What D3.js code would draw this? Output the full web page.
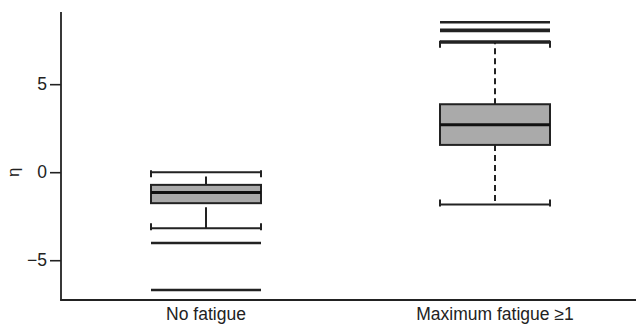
<!DOCTYPE html>
<html>
<head>
<meta charset="utf-8">
<script src="https://cdn.jsdelivr.net/npm/d3@7"></script>
<style>
  body { margin: 0; background: #fff; }
  text { font-family: "Liberation Sans", Arial, sans-serif; fill: #222; }
</style>
</head>
<body>
<div id="chart"></div>
<script>
const WIDTH = 636;
const HEIGHT = 325;

// datos
const groups = ["No fatigue", "Maximum fatigue \u22651"];
const q1 = [-1.76, 1.55];
const median = [-1.16, 2.69];
const q3 = [-0.72, 3.86];
const capLow = [-3.18, -1.84];
const capHigh = [0.0, 7.36];
const stemLow = [[-1.99, -3.18], [1.55, -1.84]];
const stemHigh = [[-0.72, -0.25], [3.86, 7.36]];
const dashed = [false, true];
const outliers = [[-4.02, -6.69], [7.43, 8.02, 8.09, 8.52]];
const yTicks = [-5, 0, 5];

const svg = d3.select("#chart")
  .append("svg")
  .attr("width", WIDTH)
  .attr("height", HEIGHT);

const x = d3.scaleLinear().domain([0.5, 2.5]).range([61.5, 639.5]);
const y = d3.scaleLinear().domain([-7.26, 9.1]).range([300, 12]);
const halfW = 55;
const ink = "#222";

// ejes
const yAxis = svg.append("g")
  .attr("transform", "translate(61,0)")
  .call(d3.axisLeft(y).tickValues(yTicks).tickSize(11).tickPadding(3)
    .tickFormat(d => d < 0 ? "\u2212" + Math.abs(d) : d));
yAxis.select(".domain").remove();
yAxis.selectAll("line").attr("stroke", ink).attr("stroke-width", 1.6);
yAxis.selectAll("text").attr("font-size", 17.5).attr("fill", ink)
  .attr("font-family", "'Liberation Sans', Arial, sans-serif");

svg.append("line")
  .attr("x1", 61).attr("x2", 61).attr("y1", 12).attr("y2", 300.8)
  .attr("stroke", ink).attr("stroke-width", 1.8);
svg.append("line")
  .attr("x1", 60.2).attr("x2", WIDTH).attr("y1", 300).attr("y2", 300)
  .attr("stroke", ink).attr("stroke-width", 1.8);

svg.append("text")
  .attr("transform", `translate(19,${y(0)}) rotate(-90)`)
  .attr("text-anchor", "middle")
  .attr("font-size", 17)
  .text("\u03b7");

svg.selectAll(".xlab")
  .data(groups)
  .join("text")
  .attr("class", "xlab")
  .attr("x", (d, i) => x(i + 1))
  .attr("y", 320)
  .attr("text-anchor", "middle")
  .attr("font-size", 17.5)
  .text(d => d);

// cajas
const grupos = svg.selectAll(".box")
  .data(groups)
  .join(enter => {
    const g = enter.append("g").attr("class", "box");

    // bigotes
    g.append("line")
      .attr("x1", (d, i) => x(i + 1)).attr("x2", (d, i) => x(i + 1))
      .attr("y1", (d, i) => y(stemLow[i][0])).attr("y2", (d, i) => y(stemLow[i][1]))
      .attr("stroke", ink).attr("stroke-width", 2)
      .attr("stroke-dasharray", (d, i) => dashed[i] ? "6,4" : null);
    g.append("line")
      .attr("x1", (d, i) => x(i + 1)).attr("x2", (d, i) => x(i + 1))
      .attr("y1", (d, i) => y(stemHigh[i][0])).attr("y2", (d, i) => y(stemHigh[i][1]))
      .attr("stroke", ink).attr("stroke-width", 2)
      .attr("stroke-dasharray", (d, i) => dashed[i] ? "6,4" : null);

    // topes con marcas
    [capLow, capHigh].forEach((cap, k) => {
      const dir = k === 0 ? -1 : 1; // hacia la caja
      g.append("path")
        .attr("fill", "none").attr("stroke", ink).attr("stroke-width", 2)
        .attr("d", (d, i) => {
          const c = y(cap[i]);
          const x0 = x(i + 1) - halfW, x1 = x(i + 1) + halfW;
          return `M${x0},${c - 2 * dir}L${x0},${c + 5 * dir}` +
                 `M${x0},${c}L${x1},${c}` +
                 `M${x1},${c - 2 * dir}L${x1},${c + 5 * dir}`;
        });
    });

    g.append("rect")
      .attr("x", (d, i) => x(i + 1) - halfW)
      .attr("width", halfW * 2)
      .attr("y", (d, i) => y(q3[i]))
      .attr("height", (d, i) => y(q1[i]) - y(q3[i]))
      .attr("fill", "#aaaaaa")
      .attr("stroke", ink).attr("stroke-width", 2);

    g.append("line")
      .attr("x1", (d, i) => x(i + 1) - halfW).attr("x2", (d, i) => x(i + 1) + halfW)
      .attr("y1", (d, i) => y(median[i])).attr("y2", (d, i) => y(median[i]))
      .attr("stroke", "#111").attr("stroke-width", 3);

    // valores atipicos como lineas
    g.each(function (d, i) {
      d3.select(this).selectAll(".out")
        .data(outliers[i])
        .join("line")
        .attr("class", "out")
        .attr("x1", x(i + 1) - halfW).attr("x2", x(i + 1) + halfW)
        .attr("y1", v => y(v)).attr("y2", v => y(v))
        .attr("stroke", ink).attr("stroke-width", 2.4);
    });

    return g;
  });
</script>
</body>
</html>
